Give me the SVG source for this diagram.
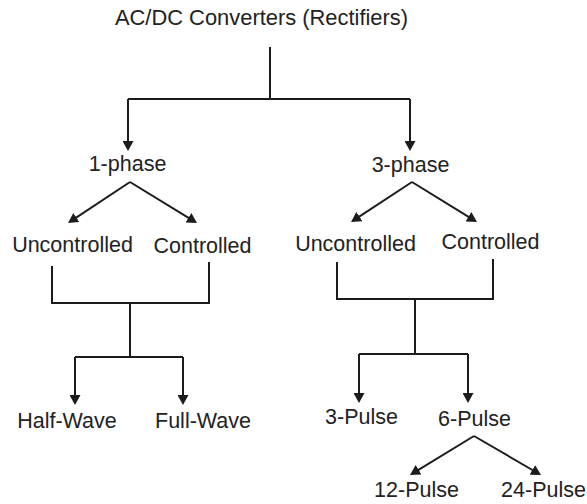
<svg xmlns="http://www.w3.org/2000/svg" width="587" height="504" viewBox="0 0 587 504">
  <style>
    .lbl { font-family: "Liberation Sans", Arial, sans-serif; font-size: 21.5px; fill: #222; text-anchor: middle; }
    .title { font-size: 21.9px; }
    .ln { fill: none; stroke: #1c1c1c; stroke-width: 2; stroke-linejoin: miter; }
    .arr { marker-end: url(#head); }
  </style>
  <defs>
    <marker id="head" viewBox="0 0 10 11" refX="2" refY="5.5" markerWidth="10" markerHeight="11" markerUnits="userSpaceOnUse" orient="auto">
      <path d="M0,0 L10,5.5 L0,11 z" fill="#1c1c1c"/>
    </marker>
  </defs>
  <rect width="587" height="504" fill="#fff"/>

  <g id="connectors">
    <!-- root split -->
    <path class="ln" d="M270,47 V99 M128,99 H410"/>
    <path class="ln arr" d="M128,99 V143"/>
    <path class="ln arr" d="M410,99 V143"/>
    <!-- 1-phase fork -->
    <path class="ln arr" d="M130,182 L74.7,218.6"/>
    <path class="ln arr" d="M130,182 L190.2,218.8"/>
    <!-- 3-phase fork -->
    <path class="ln arr" d="M412,182 L357.7,217.6"/>
    <path class="ln arr" d="M412,182 L470.2,217.8"/>
    <!-- 1-phase bracket -->
    <path class="ln" d="M52,266 V303 H209 V262 M130,303 V357 M75,357 H183"/>
    <path class="ln arr" d="M75,357 V397"/>
    <path class="ln arr" d="M183,357 V397"/>
    <!-- 3-phase bracket -->
    <path class="ln" d="M337,262 V299 H493 V259 M415,299 V354 M359,354 H468"/>
    <path class="ln arr" d="M359,354 V395"/>
    <path class="ln arr" d="M468,354 V395"/>
    <!-- 6-pulse fork -->
    <path class="ln arr" d="M474,436 L416.8,470.8"/>
    <path class="ln arr" d="M474,436 L534.1,471"/>
  </g>

  <g id="root"><text class="lbl title" x="261.5" y="25">AC/DC Converters (Rectifiers)</text></g>
  <g id="one-phase"><text class="lbl" x="127.5" y="171">1-phase</text></g>
  <g id="three-phase"><text class="lbl" x="410.5" y="172">3-phase</text></g>
  <g id="uncontrolled-1"><text class="lbl" x="72.5" y="252">Uncontrolled</text></g>
  <g id="controlled-1"><text class="lbl" x="202.5" y="253">Controlled</text></g>
  <g id="uncontrolled-3"><text class="lbl" x="355.5" y="251">Uncontrolled</text></g>
  <g id="controlled-3"><text class="lbl" x="490.5" y="249">Controlled</text></g>
  <g id="half-wave"><text class="lbl" x="67" y="428">Half-Wave</text></g>
  <g id="full-wave"><text class="lbl" x="203" y="428">Full-Wave</text></g>
  <g id="pulse-3"><text class="lbl" x="361.5" y="424">3-Pulse</text></g>
  <g id="pulse-6"><text class="lbl" x="474.5" y="426">6-Pulse</text></g>
  <g id="pulse-12"><text class="lbl" x="416.5" y="497">12-Pulse</text></g>
  <g id="pulse-24"><text class="lbl" x="543.5" y="497">24-Pulse</text></g>
</svg>
